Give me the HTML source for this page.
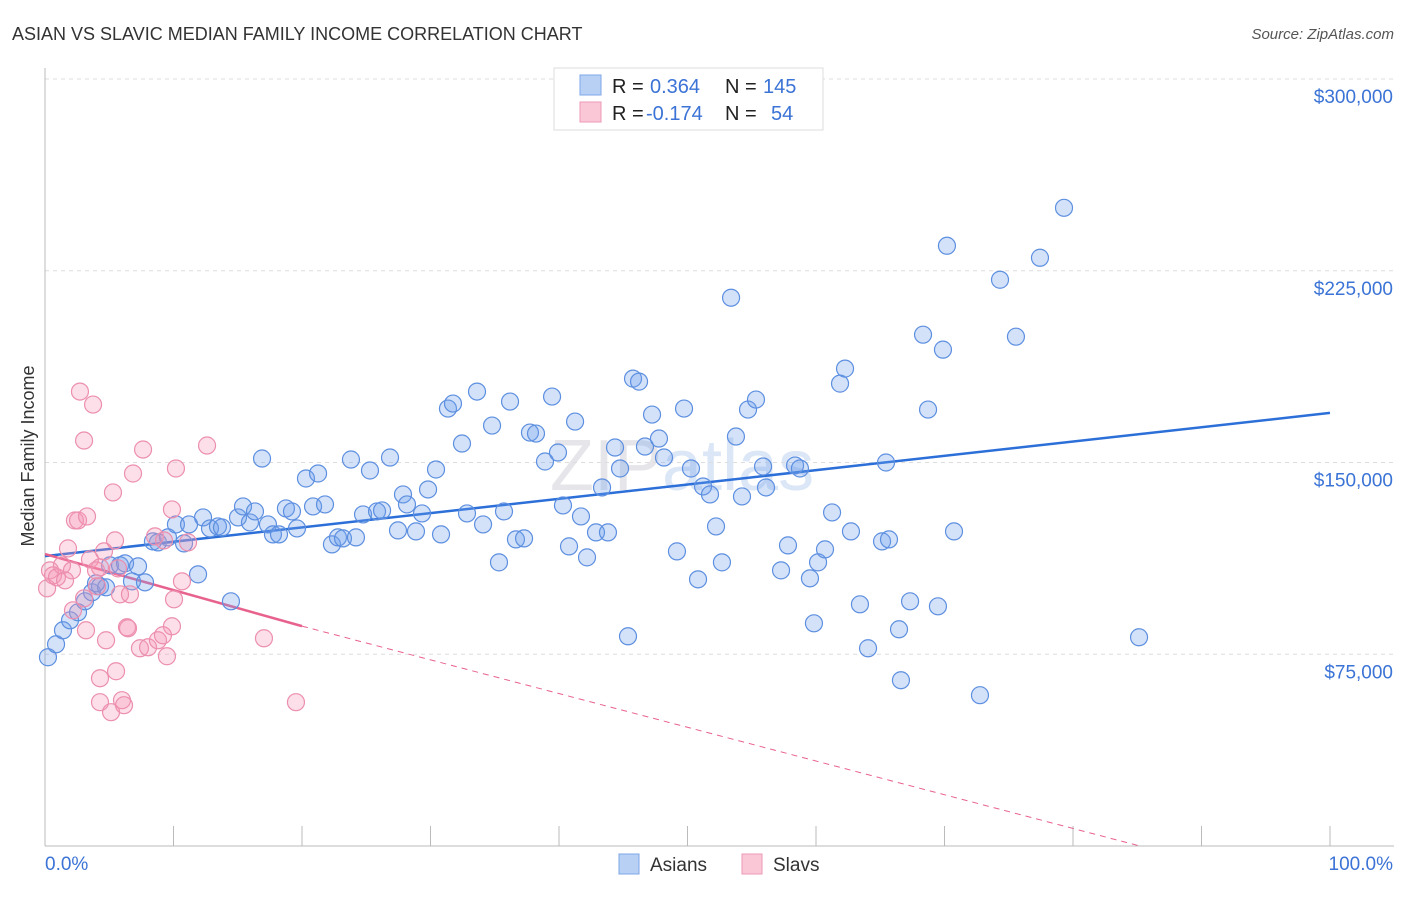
<!DOCTYPE html>
<html><head><meta charset="utf-8"><style>
body{margin:0;background:#fff;font-family:"Liberation Sans",sans-serif;}
svg text{font-family:"Liberation Sans",sans-serif;}
</style></head><body>
<svg id="chart" width="1406" height="892">
<text x="12" y="40" font-size="18" fill="#333">ASIAN VS SLAVIC MEDIAN FAMILY INCOME CORRELATION CHART</text>
<text x="1394" y="39" font-size="15" fill="#555" font-style="italic" text-anchor="end">Source: ZipAtlas.com</text>
<text x="0" y="0" transform="translate(34,456) rotate(-90)" font-size="18" fill="#333" text-anchor="middle">Median Family Income</text>
<text x="550" y="490" font-size="72" fill="#e6e6ea" font-family="Liberation Serif">ZIP<tspan fill="#dbe6f6" font-family="Liberation Sans">atlas</tspan></text>
<g id="grid"></g><g id="axes"></g><g id="trend"></g><g id="pts"></g>
<g>
<rect x="554" y="68" width="269" height="62" fill="#fff" stroke="#ddd"/>
<rect x="580" y="75" width="21" height="20" fill="#b7d0f3" stroke="#7ea7e8"/>
<rect x="580" y="102" width="21" height="20" fill="#f9c7d6" stroke="#ee9ab5"/>
<text x="612" y="93" font-size="20" fill="#222">R =</text><text x="650" y="93" font-size="20" fill="#3b73d6">0.364</text>
<text x="725" y="93" font-size="20" fill="#222">N =</text><text x="763" y="93" font-size="20" fill="#3b73d6">145</text>
<text x="612" y="120" font-size="20" fill="#222">R =</text><text x="646" y="120" font-size="20" fill="#3b73d6">-0.174</text>
<text x="725" y="120" font-size="20" fill="#222">N =</text><text x="771" y="120" font-size="20" fill="#3b73d6">54</text>
</g>
<g>
<rect x="619" y="854" width="20" height="20" fill="#b7d0f3" stroke="#7ea7e8"/>
<text x="650" y="871" font-size="19" fill="#333">Asians</text>
<rect x="742" y="854" width="20" height="20" fill="#f9c7d6" stroke="#ee9ab5"/>
<text x="773" y="871" font-size="19" fill="#333">Slavs</text>
</g>
</svg>
<script>
const yTicks=[75000,150000,225000,300000];
const yTickLabels=["$75,000","$150,000","$225,000","$300,000"];
const xTickLabels=["0.0%","100.0%"];
const asianPx=[[48,657],[56,644],[63,630],[70,620],[78,612],[85,601],[92,592],[100,586],[106,587],[96,583],[110,565],[120,565],[125,563],[138,566],[132,581],[145,582],[153,541],[158,542],[168,537],[176,524],[184,543],[189,524],[198,574],[203,517],[210,528],[218,526],[222,527],[231,601],[238,517],[243,506],[250,522],[255,511],[262,458],[268,524],[273,534],[279,534],[286,508],[292,511],[297,528],[306,478],[313,506],[318,473],[325,504],[332,544],[338,537],[343,538],[351,459],[356,537],[363,514],[370,470],[377,511],[382,510],[390,457],[398,530],[403,494],[407,504],[416,531],[422,513],[428,489],[436,469],[441,534],[448,408],[453,403],[462,443],[467,513],[477,391],[483,524],[492,425],[499,562],[504,511],[510,401],[516,539],[524,538],[530,432],[536,433],[545,461],[552,396],[558,452],[563,505],[569,546],[575,421],[581,516],[587,557],[596,532],[608,532],[602,487],[615,447],[620,468],[628,636],[633,378],[639,381],[645,446],[652,414],[659,438],[664,457],[677,551],[684,408],[691,468],[698,579],[703,486],[710,494],[716,526],[722,562],[731,297],[736,436],[742,496],[748,409],[756,399],[763,466],[766,487],[781,570],[788,545],[795,465],[800,468],[810,578],[814,623],[818,562],[825,549],[832,512],[840,383],[845,368],[851,531],[860,604],[868,648],[882,541],[889,539],[886,462],[899,629],[901,680],[910,601],[923,334],[928,409],[938,606],[943,349],[947,245],[954,531],[980,695],[1000,279],[1016,336],[1040,257],[1064,207],[1139,637]];
const slavPx=[[47,588],[50,570],[53,575],[57,577],[62,565],[65,580],[68,548],[72,570],[75,520],[78,520],[80,391],[84,440],[86,630],[87,516],[93,404],[90,559],[96,570],[100,567],[104,551],[106,640],[100,678],[100,702],[111,712],[113,492],[115,540],[118,568],[120,594],[116,671],[122,700],[124,705],[127,627],[128,628],[130,594],[133,473],[140,648],[143,449],[148,647],[155,536],[158,640],[163,635],[167,656],[172,509],[172,626],[174,599],[176,468],[182,581],[188,542],[207,445],[264,638],[296,702],[164,540],[97,586],[84,598],[73,610]];
const toX=p=>+((p-45)/12.85).toFixed(2), toV=p=>Math.round((846-p)*75000/192);
const asianX=asianPx.map(p=>toX(p[0])), asianY=asianPx.map(p=>toV(p[1]));
const slavX=slavPx.map(p=>toX(p[0])), slavY=slavPx.map(p=>toV(p[1]));
const asianTrend=[113400,169400];
const slavTrend=[114200,86000,0];
const slavTrendDashEnd=85.2;
const X0=45,X1=1330,YB=846,YT=79;
const xs=v=>X0+(X1-X0)*v/100, ys=v=>YB-(YB-YT)*v/300000;
const NS="http://www.w3.org/2000/svg";
function mk(t,a,parent){const e=document.createElementNS(NS,t);for(const k in a)e.setAttribute(k,a[k]);document.getElementById(parent).appendChild(e);return e;}
yTicks.forEach((t,i)=>{
 const l=mk('line',{x1:45,x2:1394,y1:ys(t),y2:ys(t),stroke:'#ddd','stroke-dasharray':'4,4'},'grid');
 
 
 const tx=mk('text',{x:1393,y:ys(t)+24,'font-size':19,fill:'#3b73d6','text-anchor':'end'},'axes');tx.textContent=yTickLabels[i];
 
 
});
const ax=mk('line',{x1:45,x2:45,y1:68,y2:846,stroke:'#bbb'},'axes');


const bx=mk('line',{x1:45,x2:1394,y1:846,y2:846,stroke:'#bbb'},'axes');


for(let i=0;i<=10;i++){const t=mk('line',{x1:xs(i*10),x2:xs(i*10),y1:826,y2:846,stroke:'#bbb'},'axes');
 
 }
const xl0=mk('text',{x:45,y:870,'font-size':19,fill:'#3b73d6'},'axes');xl0.textContent=xTickLabels[0];


const xl1=mk('text',{x:1393,y:870,'font-size':19,fill:'#3b73d6','text-anchor':'end'},'axes');xl1.textContent=xTickLabels[1];


asianX.forEach((x,i)=>{const c=mk('circle',{cx:xs(x),cy:ys(asianY[i]),r:8.5,fill:'rgba(110,160,235,0.3)',stroke:'#5d8fe0','stroke-width':1.2},'pts');
 
 });
slavX.forEach((x,i)=>{const c=mk('circle',{cx:xs(x),cy:ys(slavY[i]),r:8.5,fill:'rgba(245,150,180,0.3)',stroke:'#ec8fae','stroke-width':1.2},'pts');
 
 });
const t1=mk('line',{x1:xs(0),y1:ys(asianTrend[0]),x2:xs(100),y2:ys(asianTrend[1]),stroke:'#2c6fd8','stroke-width':2.5},'trend');


const t2=mk('line',{x1:xs(0),y1:ys(slavTrend[0]),x2:xs(20),y2:ys(slavTrend[1]),stroke:'#e8628e','stroke-width':2.5},'trend');


const t3=mk('line',{x1:xs(20),y1:ys(slavTrend[1]),x2:xs(slavTrendDashEnd),y2:ys(slavTrend[2]),stroke:'#e8628e','stroke-width':1,'stroke-dasharray':'6,5'},'trend');


</script>
</body></html>
